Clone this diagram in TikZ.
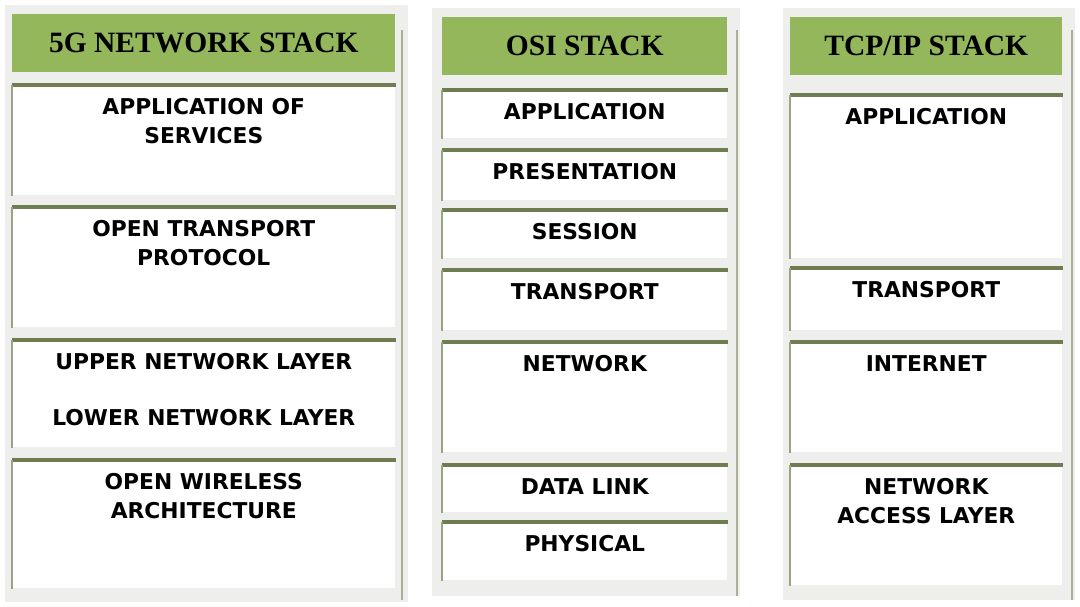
\documentclass[tikz,border=0pt]{standalone}
\usepackage{fontspec}
\setmainfont{Liberation Serif}
\setsansfont{DejaVu Sans}
\usetikzlibrary{positioning}
\definecolor{green1}{HTML}{93B75A}
\definecolor{olive1}{HTML}{6E7D50}
\definecolor{panel1}{HTML}{EEEEEC}
\begin{document}
\begin{tikzpicture}[
    x=0.025cm, y=-0.025cm,
    panel/.style={fill=panel1, draw=none},
    head/.style={fill=green1, draw=none, anchor=north west, inner sep=0pt,
                 font=\rmfamily\bfseries\fontsize{21}{23}\selectfont},
    layer/.style={fill=white, draw=none, anchor=north west, inner sep=0pt},
    ltext/.style={font=\sffamily\bfseries\fontsize{15.5}{20.5}\selectfont,
                  align=center, anchor=north},
    topline/.style={olive1, line width=2.2pt},
    sideline/.style={olive1!70, line width=0.8pt},
]
\useasboundingbox (0,0) rectangle (1080,606);

% ── panels ──
\fill[panel1] (5,5) rectangle (408,602);
\fill[panel1] (432,8) rectangle (740,596);
\fill[panel1] (783,8) rectangle (1075,600);
\draw[olive1!60, line width=1pt] (402,30) -- (402,600);
\draw[olive1!60, line width=1pt] (737,30) -- (737,596);
\draw[olive1!60, line width=1pt] (1072,30) -- (1072,600);

% ── headers ──
\node[head, minimum width=383*0.025cm, minimum height=58*0.025cm] (h5g) at (12,14) {5G NETWORK STACK};
\node[head, minimum width=285*0.025cm, minimum height=58*0.025cm] (hosi) at (442,17) {OSI STACK};
\node[head, minimum width=272*0.025cm, minimum height=58*0.025cm] (htcp) at (790,17) {TCP/IP STACK};

% ── layers: name/left/top/width/height/text ──
\foreach \n/\x/\y/\w/\h/\t in {
    a5/12/85/383/110/{APPLICATION OF\\SERVICES},
    b5/12/207/383/120/{OPEN TRANSPORT\\PROTOCOL},
    c5/12/340/383/107/{UPPER NETWORK LAYER\\[19pt]LOWER NETWORK LAYER},
    d5/12/460/383/128/{OPEN WIRELESS\\ARCHITECTURE},
    ao/442/90/285/48/{APPLICATION},
    bo/442/150/285/50/{PRESENTATION},
    co/442/210/285/48/{SESSION},
    do/442/270/285/60/{TRANSPORT},
    eo/442/342/285/110/{NETWORK},
    fo/442/465/285/47/{DATA LINK},
    go/442/522/285/58/{PHYSICAL},
    at/790/95/272/163/{APPLICATION},
    bt/790/268/272/62/{TRANSPORT},
    ct/790/342/272/110/{INTERNET},
    dt/790/465/272/120/{NETWORK\\ACCESS LAYER}} {
  \node[layer, minimum width=\w*0.025cm, minimum height=\h*0.025cm] (\n) at (\x,\y) {};
  \draw[topline] (\n.north west) -- (\n.north east);
  \draw[sideline] (\n.north west) -- (\n.south west);
  \node[ltext] at ([yshift=-0.22cm]\n.north) {\t};
}

\end{tikzpicture}
\end{document}
